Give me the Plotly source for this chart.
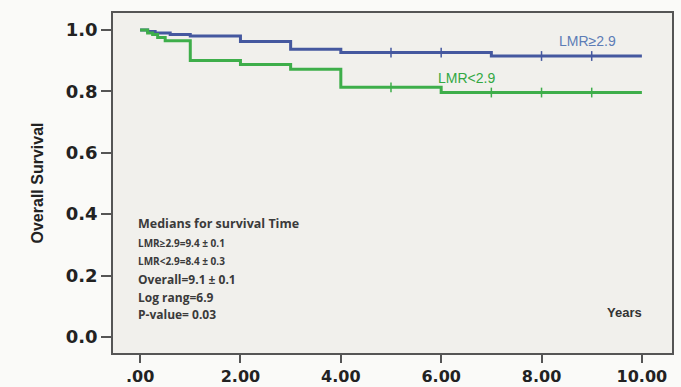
import plotly.graph_objects as go

# Kaplan-Meier step data (years, survival)
blue_t = [0.0, 0.05, 0.15, 0.3, 0.6, 1.0, 2.0, 3.0, 4.0, 7.0, 10.0]
blue_s = [1.0, 1.0, 0.995, 0.99, 0.985, 0.98, 0.962, 0.937, 0.926, 0.915, 0.915]
green_t = [0.0, 0.05, 0.15, 0.25, 0.35, 0.5, 1.0, 2.0, 3.0, 4.0, 6.0, 10.0]
green_s = [1.0, 1.0, 0.99, 0.985, 0.975, 0.965, 0.90, 0.887, 0.872, 0.813, 0.796, 0.796]
blue_cens_t = [5, 6, 8, 9]
green_cens_t = [5, 7, 8, 9]

x_tickvals = [0, 2, 4, 6, 8, 10]
x_ticktext = [".00", "2.00", "4.00", "6.00", "8.00", "10.00"]
y_tickvals = [0.0, 0.2, 0.4, 0.6, 0.8, 1.0]

stats_lines = [
    ("Medians for survival Time", 12.5),
    ("LMR≥2.9=9.4 ± 0.1", 10),
    ("LMR<2.9=8.4 ± 0.3", 10),
    ("Overall=9.1 ± 0.1", 12),
    ("Log rang=6.9", 12),
    ("P-value= 0.03", 12),
]

BLUE = "#45589f"
GREEN = "#3eae4a"


def surv_at(ts, ss, t):
    val = ss[0]
    for ti, si in zip(ts, ss):
        if ti <= t:
            val = si
    return val


fig = go.Figure()
fig.add_trace(go.Scatter(x=blue_t, y=blue_s, mode="lines", line=dict(color=BLUE, width=3, shape="hv"),
                         hoverinfo="skip", showlegend=False))
fig.add_trace(go.Scatter(x=green_t, y=green_s, mode="lines", line=dict(color=GREEN, width=3, shape="hv"),
                         hoverinfo="skip", showlegend=False))
fig.add_trace(go.Scatter(x=blue_cens_t, y=[surv_at(blue_t, blue_s, t) for t in blue_cens_t], mode="markers",
                         marker=dict(symbol="line-ns", size=7, line=dict(color=BLUE, width=1.5)),
                         showlegend=False, hoverinfo="skip"))
fig.add_trace(go.Scatter(x=green_cens_t, y=[surv_at(green_t, green_s, t) for t in green_cens_t], mode="markers",
                         marker=dict(symbol="line-ns", size=7, line=dict(color=GREEN, width=1.5)),
                         showlegend=False, hoverinfo="skip"))

narrow = "Liberation Sans Narrow, Arial Narrow, Liberation Sans, sans-serif"

fig.add_annotation(x=9.52, y=0.965, xref="x", yref="y", text="LMR≥2.9", showarrow=False,
                   xanchor="right", yanchor="middle", font=dict(family=narrow, size=14, color="#5d7db6"))
fig.add_annotation(x=7.11, y=0.845, xref="x", yref="y", text="LMR<2.9", showarrow=False,
                   xanchor="right", yanchor="middle", font=dict(family=narrow, size=14, color="#33a843"))

ys_px = [224, 243, 261, 279, 297, 314]
for (txt, sz), py in zip(stats_lines, ys_px):
    fig.add_annotation(x=136 / 681, y=1 - py / 387, xref="paper", yref="paper", text="<b>" + txt + "</b>",
                       showarrow=False, xanchor="left", yanchor="middle",
                       font=dict(family="Open Sans, Liberation Sans, sans-serif", size=sz, color="#3a3a3a"))
fig.add_annotation(x=10.05, y=0.08, xref="x", yref="y", text="<b>Years</b>", showarrow=False, xanchor="right",
                   yanchor="middle", font=dict(family=narrow, size=13, color="#333333"))

fig.update_layout(
    width=681, height=387,
    margin=dict(l=113, r=9, t=13, b=34),
    paper_bgcolor="#fafaf8",
    plot_bgcolor="#f1f0ec",
    showlegend=False,
)
fig.update_xaxes(range=[-0.54, 10.6], tickvals=x_tickvals, ticktext=x_ticktext, ticks="outside", ticklen=8,
                 tickwidth=1.5, tickcolor="#555555", showgrid=False, zeroline=False, showline=True,
                 linecolor="#555555", linewidth=1.5, mirror=True, automargin=False,
                 tickfont=dict(family="DejaVu Sans", size=16, color="#222222", weight="bold"))
fig.update_yaxes(range=[-0.052, 1.055], tickvals=y_tickvals, tickformat=".1f", ticks="outside", ticklen=10,
                 tickwidth=1.5, tickcolor="#555555", showgrid=False, zeroline=False, showline=True,
                 linecolor="#555555", linewidth=1.5, mirror=True, automargin=False,
                 tickfont=dict(family="DejaVu Sans", size=18, color="#222222", weight="bold"),
                 title=dict(text="<b>Overall Survival</b>", standoff=18,
                            font=dict(family=narrow, size=16, color="#222222")))

# convert the stats annotation positions from page pixels to paper coords
plot_w = 681 - 113 - 9
plot_h = 387 - 13 - 34
for ann in fig.layout.annotations:
    if ann.xref == "paper":
        px = ann.x * 681
        py = (1 - ann.y) * 387
        ann.x = (px - 113) / plot_w
        ann.y = 1 - (py - 13) / plot_h

fig.write_html("out.html")
